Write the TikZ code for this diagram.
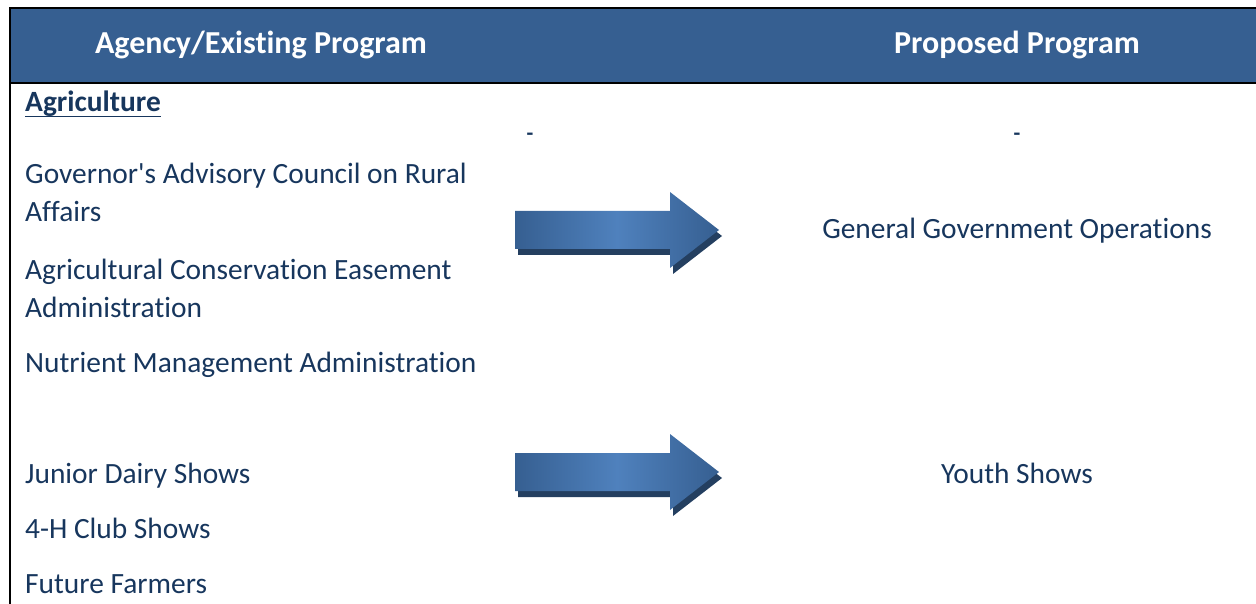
\documentclass[tikz,border=0pt]{standalone}
\usepackage{fontspec}
\setmainfont{Carlito}[Ligatures={NoCommon,TeXOff}]
\usetikzlibrary{positioning}
\definecolor{headblue}{HTML}{365F91}
\definecolor{navytext}{HTML}{17365D}
\definecolor{arrowdark}{HTML}{243F60}
\definecolor{arrowlight}{HTML}{4F81BD}
\definecolor{arrowside}{HTML}{365F91}

\begin{document}
\begin{tikzpicture}[x=1pt,y=-1pt]

% Definitions
\tikzstyle{Header} = [text=white, font=\fontsize{32}{38}\selectfont\bfseries, anchor=base, inner sep=0pt]
\tikzstyle{Item} = [text=navytext, font=\fontsize{29.4}{38}\selectfont, anchor=base west, inner sep=0pt, align=left]
\tikzstyle{Target} = [text=navytext, font=\fontsize{29.4}{38}\selectfont, anchor=base, inner sep=0pt]
\tikzstyle{Shadow} = [fill=arrowdark]
\tikzstyle{Block} = [left color=arrowside, right color=arrowside, middle color=arrowlight]

\useasboundingbox (0,0) rectangle (1256,604);

% header bar and frame
\fill[headblue] (10,8) rectangle (1256,83);
\draw[line width=2pt] (1256,8) -- (10,8) -- (10,604);
\draw[line width=2pt] (10,83) -- (1256,83);

\node (hdAgency) [Header] at (261,54) {Agency/Existing Program};
\node (hdProposed) [Header] at (1017,54) {Proposed Program};

% existing programs (base = last line)
\node (agri) [Item, font=\fontsize{29.4}{38}\selectfont\bfseries] at (25,112) {Agriculture};
\draw[navytext, line width=1.6pt] ([yshift=-4.5pt]agri.base west) -- ([yshift=-4.5pt]agri.base east);
\node (gov) [Item] at (25,222) {Governor's Advisory Council on Rural\\Affairs};
\node (ease) [Item] at (25,317) {Agricultural Conservation Easement\\Administration};
\node (nutr) [Item] at (25,372) {Nutrient Management Administration};
\node (dairy) [Item] at (25,483) {Junior Dairy Shows};
\node (club) [Item] at (25,538) {4-H Club Shows};
\node (ffa) [Item] at (25,593) {Future Farmers};

\node (dashL) [Target, font=\fontsize{22}{26}\selectfont\bfseries] at (530,141) {-};
\node (dashR) [Target, font=\fontsize{22}{26}\selectfont\bfseries] at (1017,141) {-};

% proposed programs
\node (ggo) [Target] at (1017,239) {General Government Operations};
\node (youth) [Target] at (1017,483) {Youth Shows};

% block arrows
\foreach \ay in {230,472}{
  \fill[Shadow] (518,{\ay-13}) -- (673,{\ay-13}) -- (673,{\ay-32}) -- (722,{\ay+6}) -- (673,{\ay+44}) -- (673,{\ay+25}) -- (518,{\ay+25}) -- cycle;
  \shade[Block] (515,{\ay-19}) -- (670,{\ay-19}) -- (670,{\ay-38}) -- (719,\ay) -- (670,{\ay+38}) -- (670,{\ay+19}) -- (515,{\ay+19}) -- cycle;
}

\end{tikzpicture}
\end{document}
